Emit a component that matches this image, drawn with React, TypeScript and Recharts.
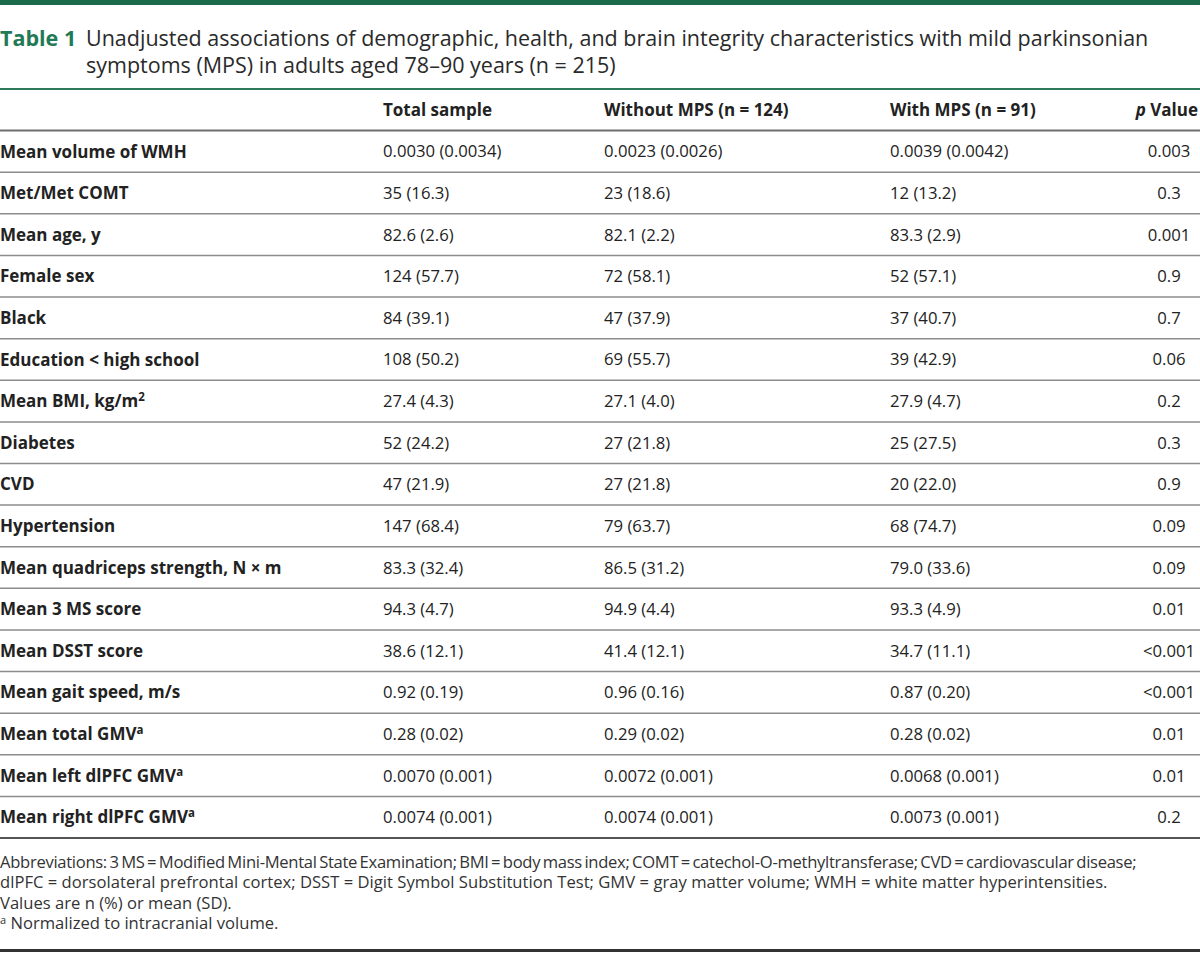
import React from 'react';
import { ScatterChart, Scatter, XAxis, YAxis, ReferenceLine } from 'recharts';

const columnHeaders = ['Total sample', 'Without MPS (n = 124)', 'With MPS (n = 91)', 'p Value'];

const rowLabels = [
  'Mean volume of WMH', 'Met/Met COMT', 'Mean age, y', 'Female sex', 'Black',
  'Education < high school', 'Mean BMI, kg/m', 'Diabetes', 'CVD', 'Hypertension',
  'Mean quadriceps strength, N × m', 'Mean 3 MS score', 'Mean DSST score',
  'Mean gait speed, m/s', 'Mean total GMV', 'Mean left dlPFC GMV', 'Mean right dlPFC GMV',
];
const rowSup = ['', '', '', '', '', '', '2', '', '', '', '', '', '', '', 'a', 'a', 'a'];

const totalSample = [
  '0.0030 (0.0034)', '35 (16.3)', '82.6 (2.6)', '124 (57.7)', '84 (39.1)', '108 (50.2)',
  '27.4 (4.3)', '52 (24.2)', '47 (21.9)', '147 (68.4)', '83.3 (32.4)', '94.3 (4.7)',
  '38.6 (12.1)', '0.92 (0.19)', '0.28 (0.02)', '0.0070 (0.001)', '0.0074 (0.001)',
];
const withoutMPS = [
  '0.0023 (0.0026)', '23 (18.6)', '82.1 (2.2)', '72 (58.1)', '47 (37.9)', '69 (55.7)',
  '27.1 (4.0)', '27 (21.8)', '27 (21.8)', '79 (63.7)', '86.5 (31.2)', '94.9 (4.4)',
  '41.4 (12.1)', '0.96 (0.16)', '0.29 (0.02)', '0.0072 (0.001)', '0.0074 (0.001)',
];
const withMPS = [
  '0.0039 (0.0042)', '12 (13.2)', '83.3 (2.9)', '52 (57.1)', '37 (40.7)', '39 (42.9)',
  '27.9 (4.7)', '25 (27.5)', '20 (22.0)', '68 (74.7)', '79.0 (33.6)', '93.3 (4.9)',
  '34.7 (11.1)', '0.87 (0.20)', '0.28 (0.02)', '0.0068 (0.001)', '0.0073 (0.001)',
];
const pValues = [
  '0.003', '0.3', '0.001', '0.9', '0.7', '0.06', '0.2', '0.3', '0.9', '0.09', '0.09',
  '0.01', '<0.001', '<0.001', '0.01', '0.01', '0.2',
];

const footnotes = [
  'Abbreviations: 3 MS = Modified Mini-Mental State Examination; BMI = body mass index; COMT = catechol-O-methyltransferase; CVD = cardiovascular disease;',
  'dlPFC = dorsolateral prefrontal cortex; DSST = Digit Symbol Substitution Test; GMV = gray matter volume; WMH = white matter hyperintensities.',
  'Values are n (%) or mean (SD).',
];
const footnoteA = 'Normalized to intracranial volume.';

// layout (not data)
const W = 1200;
const H = 953;
const colX = [0, 383, 604, 890, 1169];
const headerX = [383, 604, 890, 1198];
const TEXT = '#222';

const columns = [rowLabels, totalSample, withoutMPS, withMPS, pValues];
const cellData = columns.map((col, c) =>
  col.map((text, i) => ({ x: colX[c], y: i, text, sup: c === 0 ? rowSup[i] : '' }))
);
const headerData = columnHeaders.map((text, c) => ({ x: headerX[c], y: -1, text, sup: '' }));

const makeCell = (anchor: 'start' | 'middle' | 'end', bold: boolean) => (props: any) => {
  const { cx, cy, payload } = props;
  if (cx == null || cy == null) return <g />;
  const t: string = payload.text;
  const italicP = t.startsWith('p ');
  return (
    <text
      x={cx}
      y={cy}
      dy="0.36em"
      textAnchor={anchor}
      fontSize={bold ? 17 : 16.7}
      fontWeight={bold ? 700 : 400}
      fill={TEXT}
      fontFamily="'Open Sans', sans-serif"
    >
      {italicP ? (
        <>
          <tspan fontStyle="italic">p</tspan>
          {t.slice(1)}
        </>
      ) : (
        t
      )}
      {payload.sup ? (
        <tspan dy={-6} fontSize={11.5}>
          {payload.sup}
        </tspan>
      ) : null}
    </text>
  );
};

const HeaderCell = (props: any) => {
  const isP = props.payload && props.payload.text.startsWith('p ');
  return makeCell(isP ? 'end' : 'start', true)(props);
};

const separators = rowLabels.slice(1).map((_, i) => i + 0.5);

export default function App() {
  return (
    <div
      style={{
        position: 'absolute',
        left: 0,
        top: 0,
        width: W,
        height: H,
        background: '#fff',
        fontFamily: "'Open Sans', sans-serif",
        color: TEXT,
        overflow: 'hidden',
      }}
    >
      <div style={{ position: 'absolute', left: 0, top: 0, width: W, height: 5, background: '#1b6a4b' }} />
      <div
        style={{
          position: 'absolute',
          left: 0,
          top: 24,
          width: W,
          fontSize: 21.5,
          lineHeight: '27px',
          whiteSpace: 'nowrap',
          color: '#2a2a2a',
        }}
      >
        <div style={{ display: 'flex' }}>
          <span style={{ width: 86, flex: '0 0 86px', fontWeight: 700, color: '#1f7a55' }}>Table 1</span>
          <div>
            <div>Unadjusted associations of demographic, health, and brain integrity characteristics with mild parkinsonian</div>
            <div>symptoms (MPS) in adults aged 78–90 years (n = 215)</div>
          </div>
        </div>
      </div>

      <div style={{ position: 'absolute', left: 0, top: 0 }}>
        <ScatterChart width={W} height={H} margin={{ top: 89, bottom: H - 838, left: 0, right: 0 }}>
          <XAxis type="number" dataKey="x" domain={[0, W]} hide allowDataOverflow />
          <YAxis type="number" dataKey="y" domain={[-1.5, 16.5]} reversed hide allowDataOverflow />
          <ReferenceLine y={-1.5} stroke="#2e7a5a" strokeWidth={2} />
          <ReferenceLine y={-0.5} stroke="#6e6e6e" strokeWidth={2} />
          {separators.map((s) => (
            <ReferenceLine key={s} y={s} stroke="#8c8c8c" strokeWidth={1.5} />
          ))}
          <ReferenceLine y={16.5} stroke="#555" strokeWidth={2} />
          <Scatter data={headerData} shape={HeaderCell} isAnimationActive={false} />
          <Scatter data={cellData[0]} shape={makeCell('start', true)} isAnimationActive={false} />
          <Scatter data={cellData[1]} shape={makeCell('start', false)} isAnimationActive={false} />
          <Scatter data={cellData[2]} shape={makeCell('start', false)} isAnimationActive={false} />
          <Scatter data={cellData[3]} shape={makeCell('start', false)} isAnimationActive={false} />
          <Scatter data={cellData[4]} shape={makeCell('middle', false)} isAnimationActive={false} />
        </ScatterChart>
      </div>

      <div
        style={{
          position: 'absolute',
          left: 0,
          top: 852,
          width: W,
          fontSize: 16.6,
          lineHeight: '20.3px',
          color: '#333',
          whiteSpace: 'nowrap',
        }}
      >
        <div style={{ wordSpacing: '-1.5px', letterSpacing: '-0.3px' }}>{footnotes[0]}</div>
        <div style={{ letterSpacing: '0.02px' }}>{footnotes[1]}</div>
        <div>{footnotes[2]}</div>
        <div>
          <span style={{ fontSize: 11, verticalAlign: 'top', lineHeight: '14px' }}>a</span> {footnoteA}
        </div>
      </div>
      <div style={{ position: 'absolute', left: 0, top: 949, width: W, height: 3, background: '#333' }} />
    </div>
  );
}
